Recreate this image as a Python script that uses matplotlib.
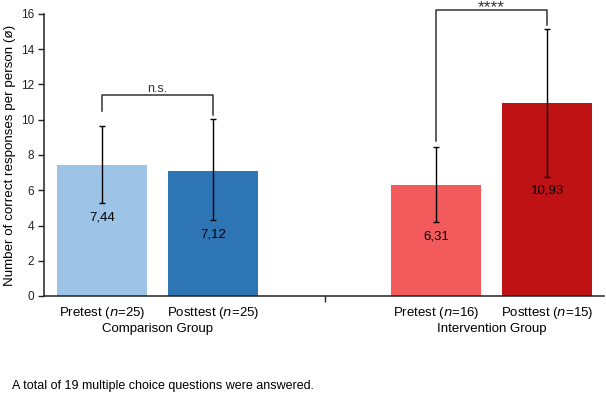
import matplotlib
matplotlib.use("Agg")
import matplotlib.pyplot as plt

plt.rcParams['font.family'] = ['Liberation Sans', 'DejaVu Sans']

# Data
conditions = ["Pretest", "Posttest", "Pretest", "Posttest"]
n_values = [25, 25, 16, 15]
groups = ["Comparison Group", "Intervention Group"]
means = [7.44, 7.12, 6.31, 10.93]
err_low = [5.28, 4.30, 4.20, 6.76]
err_high = [9.62, 10.04, 8.45, 15.13]
value_labels = ["7,44", "7,12", "6,31", "10,93"]
colors = ["#9DC3E6", "#2E75B6", "#F35A5C", "#BF1214"]
sig_labels = ["n.s.", "****"]
y_ticks = [0, 2, 4, 6, 8, 10, 12, 14, 16]

fig = plt.figure(figsize=(6.06, 3.96), dpi=100)
ax = fig.add_axes([44/606, 100/396, 560/606, 282/396])

x = [0, 1, 3, 4]
ax.bar(x, means, width=0.81, color=colors, zorder=1)
yerr = [[m - lo for m, lo in zip(means, err_low)],
        [hi - m for m, hi in zip(means, err_high)]]
ax.errorbar(x, means, yerr=yerr, fmt='none', ecolor='black',
            elinewidth=1.0, capsize=2.2, capthick=1.0, zorder=3)

for xi, lo, lab in zip(x, err_low, value_labels):
    ax.text(xi, lo - 0.8, lab, ha='center', va='center', fontsize=9.5, color='black')

ax.set_xlim(-0.52, 4.51)
ax.set_ylim(0, 16)
ax.set_yticks(y_ticks)
ax.set_yticklabels([str(t) for t in y_ticks], fontsize=8.5, color='#222222')
ax.set_xticks([2])
ax.set_xticklabels([])
ax.tick_params(axis='both', direction='out', length=4, width=1, color='#222222')
ax.tick_params(axis='y', pad=3)
for s in ['top', 'right']:
    ax.spines[s].set_visible(False)
for s in ['left', 'bottom']:
    ax.spines[s].set_color('#222222')
    ax.spines[s].set_linewidth(1.1)

ax.set_ylabel("Number of correct responses per person (ø)", fontsize=9.6)
ax.yaxis.set_label_coords(-28/560, 0.5)

# Significance brackets
brackets = [
    (0, 1, 11.42, 10.47, 10.28),
    (3, 4, 16.2, 8.8, 15.35),
]
for (x1, x2, yb, yl, yr), lab in zip(brackets, sig_labels):
    ax.plot([x1, x1, x2, x2], [yl, yb, yb, yr], color='#333333', lw=1.1,
            clip_on=False, zorder=4)

ax.text(0.5, 11.42 + 0.3, sig_labels[0], ha='center', va='center',
        fontsize=9, color='#333333')
ax.annotate(sig_labels[1], xy=(3.5, 1 - 0.5/396), xycoords=('data', 'figure fraction'),
            ha='center', va='top', fontsize=12.5, color='#333333', annotation_clip=False)

# Category labels
for xi, cond, n in zip(x, conditions, n_values):
    ax.text(xi, -0.95, f"{cond} ($\\it{{n}}$={n})", ha='center', va='center',
            fontsize=9.5)
ax.text(0.5, -1.85, groups[0], ha='center', va='center', fontsize=9.5)
ax.text(3.5, -1.85, groups[1], ha='center', va='center', fontsize=9.5)

fig.text(12/606, 1 - 386/396, "A total of 19 multiple choice questions were answered.",
         ha='left', va='center', fontsize=9)

fig.savefig("out.png", dpi=100)
